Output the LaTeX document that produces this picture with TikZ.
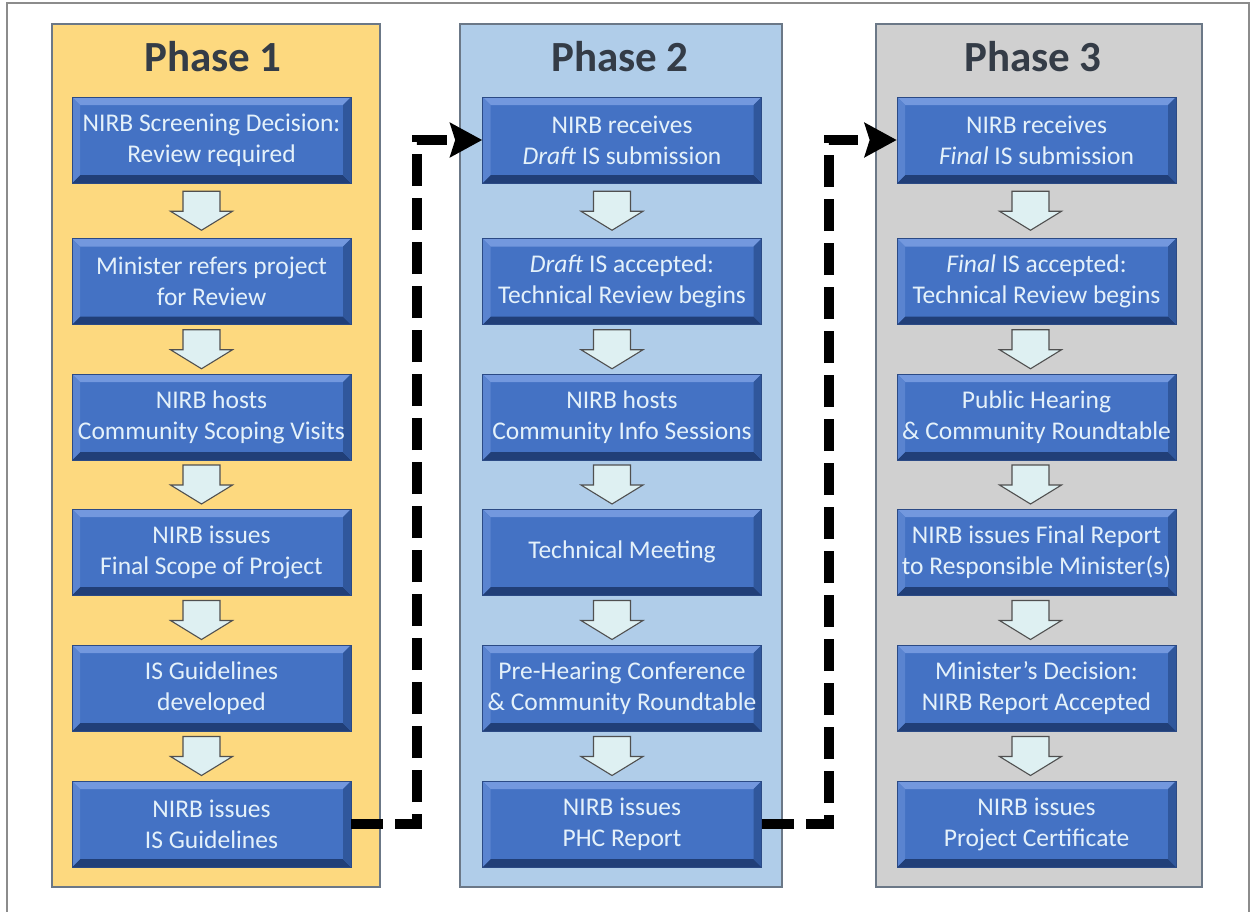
\documentclass[tikz,border=0pt]{standalone}
\usepackage{fontspec}
\setmainfont{Carlito}
\usetikzlibrary{arrows.meta,calc}
\definecolor{frame}{HTML}{8C8C8C}
\definecolor{ph1}{HTML}{FDD97F}
\definecolor{ph2}{HTML}{B0CDE9}
\definecolor{ph3}{HTML}{D0D0D0}
\definecolor{phedge}{HTML}{6B7887}
\definecolor{boxfill}{HTML}{4472C4}
\definecolor{boxedge}{HTML}{2B4A85}
\definecolor{bevtop}{HTML}{7398DE}
\definecolor{bevleft}{HTML}{5A84D0}
\definecolor{bevright}{HTML}{30579C}
\definecolor{bevbot}{HTML}{213F78}
\definecolor{boxtext}{HTML}{E4F1FA}
\definecolor{titletext}{HTML}{343C47}
\definecolor{arrfill}{HTML}{DEF0F2}
\definecolor{arredge}{HTML}{505050}
\tikzset{
  phase/.style={draw=phedge, line width=1.2pt},
  phasetitle/.style={font=\fontsize{43}{48}\selectfont\bfseries, text=titletext, inner sep=0pt},
  stepbox/.style={draw=boxedge, line width=0.6pt, fill=boxfill, minimum width=279pt,
    minimum height=86pt, inner sep=0pt, align=center, text=boxtext,
    font=\fontsize{25.5}{31}\selectfont,
    path picture={
      \fill[bevtop] (path picture bounding box.north west) -- (path picture bounding box.north east)
        -- ([shift={(-8pt,-8pt)}]path picture bounding box.north east)
        -- ([shift={(8pt,-8pt)}]path picture bounding box.north west) -- cycle;
      \fill[bevbot] (path picture bounding box.south west) -- (path picture bounding box.south east)
        -- ([shift={(-8pt,8pt)}]path picture bounding box.south east)
        -- ([shift={(8pt,8pt)}]path picture bounding box.south west) -- cycle;
      \fill[bevleft] (path picture bounding box.north west) -- (path picture bounding box.south west)
        -- ([shift={(8pt,8pt)}]path picture bounding box.south west)
        -- ([shift={(8pt,-8pt)}]path picture bounding box.north west) -- cycle;
      \fill[bevright] (path picture bounding box.north east) -- (path picture bounding box.south east)
        -- ([shift={(-8pt,8pt)}]path picture bounding box.south east)
        -- ([shift={(-8pt,-8pt)}]path picture bounding box.north east) -- cycle;
    }},
  blockarrow/.style={fill=arrfill, draw=arredge, line width=1.1pt, line join=miter},
  dashconn/.style={line width=10pt, dash pattern=on 32pt off 12pt,
    -{Stealth[length=32pt,width=34pt,inset=5pt]}},
  darrow/.pic={\draw[blockarrow] (-18.5,-19.5) -- (18.5,-19.5) -- (18.5,0.5) -- (31,0.5)
      -- (0,19.5) -- (-31,0.5) -- (-18.5,0.5) -- cycle;}
}
\begin{document}
\begin{tikzpicture}[x=1pt,y=-1pt]
\useasboundingbox (0,0) rectangle (1253,911);
\fill[white] (0,0) rectangle (1253,911);
\draw[frame, line width=1.6pt] (7,915) -- (7,3) -- (1249,3) -- (1249,915);

\draw[phase, fill=ph1] (52,24) rectangle (380,887);
\draw[phase, fill=ph2] (460,24) rectangle (782,887);
\draw[phase, fill=ph3] (876,24) rectangle (1202,887);

\node[phasetitle] (t1) at (213,57) {Phase 1};
\node[phasetitle] (t2) at (620,57) {Phase 2};
\node[phasetitle] (t3) at (1033,57) {Phase 3};

% Phase 1
\node[stepbox] (a1) at (211.5,140) {NIRB Screening Decision:\\Review required};
\node[stepbox] (a2) at (211.5,281.5) {Minister refers project\\for Review};
\node[stepbox] (a3) at (211.5,417) {NIRB hosts\\Community Scoping Visits};
\node[stepbox] (a4) at (211.5,552) {NIRB issues\\Final Scope of Project};
\node[stepbox] (a5) at (211.5,688) {IS Guidelines\\developed};
\node[stepbox] (a6) at (211.5,824) {NIRB issues\\IS Guidelines};
% Phase 2
\node[stepbox] (b1) at (622,140) {NIRB receives\\\textit{Draft} IS submission};
\node[stepbox] (b2) at (622,281.5) {\textit{Draft} IS accepted:\\Technical Review begins};
\node[stepbox] (b3) at (622,417) {NIRB hosts\\Community Info Sessions};
\node[stepbox] (b4) at (622,552) {Technical Meeting};
\node[stepbox] (b5) at (622,688) {Pre-Hearing Conference\\\& Community Roundtable};
\node[stepbox] (b6) at (622,824) {NIRB issues\\PHC Report};
% Phase 3
\node[stepbox] (c1) at (1036.5,140) {NIRB receives\\\textit{Final} IS submission};
\node[stepbox] (c2) at (1036.5,281.5) {\textit{Final} IS accepted:\\Technical Review begins};
\node[stepbox] (c3) at (1036.5,417) {Public Hearing\\\& Community Roundtable};
\node[stepbox] (c4) at (1036.5,552) {NIRB issues Final Report\\to Responsible Minister(s)};
\node[stepbox] (c5) at (1036.5,688) {Minister’s Decision:\\NIRB Report Accepted};
\node[stepbox] (c6) at (1036.5,824) {NIRB issues\\Project Certificate};

% block arrows
\foreach \p/\dx in {a/-10,b/-10,c/-6}{
  \foreach \i [evaluate=\i as \j using int(\i+1)] in {1,...,5}{
    \pic at ($(\p\i.south)!0.5!(\p\j.north)+(\dx,0)$) {darrow};
  }
}

% dashed connectors
\draw[dashconn] (a6.east) -- ++(66,0) |- (b1.west);
\draw[dashconn] (b6.east) -- ++(67,0) |- (c1.west);
\end{tikzpicture}
\end{document}
